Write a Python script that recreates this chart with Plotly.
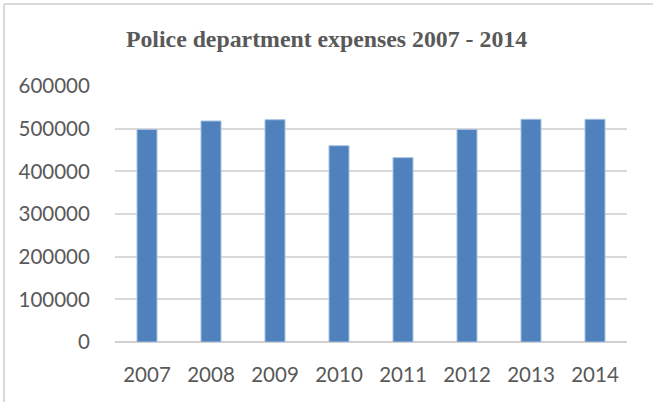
import plotly.graph_objects as go

# Annual police department expenses
years = ["2007", "2008", "2009", "2010", "2011", "2012", "2013", "2014"]
expenses = [498000, 518000, 521000, 460000, 432000, 498000, 522000, 522000]
y_ticks = [0, 100000, 200000, 300000, 400000, 500000, 600000]

W, H = 653, 402
ML, MR, MT, MB = 115, 26, 86, 60
plot_w = W - ML - MR
plot_h = H - MT - MB

fig = go.Figure(
    go.Bar(
        x=years,
        y=expenses,
        marker=dict(color="#4F81BD", line=dict(color="#a4c0e3", width=1)),
        width=0.3125,
    )
)

# outer chart frame (top and left edges)
fx = (4 - ML) / plot_w
fy = 1 + (MT - 4) / plot_h
frame = dict(type="line", xref="paper", yref="paper",
             line=dict(color="#d9d9d9", width=2), layer="below")
fig.add_shape(**frame, x0=fx, x1=fx, y0=fy, y1=-2)
fig.add_shape(**frame, x0=fx, x1=3, y0=fy, y1=fy)

fig.update_layout(
    width=W,
    height=H,
    margin=dict(l=ML, r=MR, t=MT, b=MB, pad=0),
    paper_bgcolor="white",
    plot_bgcolor="white",
    showlegend=False,
    title=dict(
        text="<b>Police department expenses 2007 - 2014</b>",
        font=dict(family="Liberation Serif, Times New Roman, serif", size=23.8, color="#595959"),
        x=0.5, xref="container", xanchor="center",
        y=1 - 39 / H, yref="container", yanchor="middle",
    ),
    font=dict(family="Lato, Roboto, sans-serif", size=20.5, color="#595959"),
    xaxis=dict(
        showgrid=False,
        showline=False,
        zeroline=False,
        ticks="outside",
        ticklen=14,
        tickcolor="rgba(0,0,0,0)",
    ),
    yaxis=dict(
        range=[0, 600000],
        tickvals=y_ticks,
        ticktext=[str(v) for v in y_ticks],
        showgrid=True,
        gridcolor="#d9d9d9",
        gridwidth=1.5,
        zeroline=True,
        zerolinecolor="#d0d0d0",
        zerolinewidth=1.5,
        showline=False,
        ticks="outside",
        ticklen=20,
        tickcolor="rgba(0,0,0,0)",
    ),
)

fig.write_html("out.html")
